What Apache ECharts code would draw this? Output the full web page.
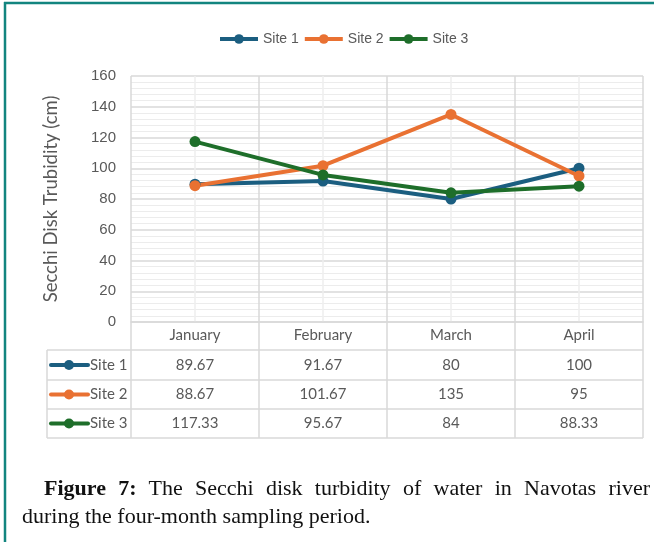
<!DOCTYPE html>
<html>
<head>
<meta charset="utf-8">
<script src="https://cdn.jsdelivr.net/npm/echarts@6/dist/echarts.min.js"></script>
<style>
  html, body { margin: 0; padding: 0; background: #fff; }
  #wrap { position: relative; width: 654px; height: 542px; }
  #chart { width: 654px; height: 542px; }
  #caption {
    position: absolute; left: 22px; top: 474px; width: 628px;
    font: 22px/28px "Liberation Serif", serif; color: #111;
  }
  #caption .l1 { padding-left: 22px; text-align: justify; text-align-last: justify; }
</style>
</head>
<body>
<div id="wrap">
  <div id="chart"></div>
  <div id="caption"><div class="l1"><b>Figure 7:</b> The Secchi disk turbidity of water in Navotas river</div><div>during the four-month sampling period.</div></div>
</div>
<script>
var months = ['January', 'February', 'March', 'April'];
var siteNames = ['Site 1', 'Site 2', 'Site 3'];
var site1 = [89.67, 91.67, 80, 100];
var site2 = [88.67, 101.67, 135, 95];
var site3 = [117.33, 95.67, 84, 88.33];
var siteColors = ['#1b5e80', '#e97132', '#1e6e2a'];
var allSites = [site1, site2, site3];

var chart = echarts.init(document.getElementById('chart'));

// plot box
var gl = 131, gr = 643, gt = 76, gb = 322;
var band = (gr - gl) / months.length;
var rowY = [365, 394.5, 423.5];
var rowEdges = [350, 380, 409, 438];
var gridColor = '#d9d9d9';
var txt = '#595959';

var graphics = [];
// table lines
for (var k = 0; k <= months.length; k++) {
    graphics.push({ type: 'line', shape: { x1: gl + band * k, y1: gb, x2: gl + band * k, y2: 438 },
        style: { stroke: gridColor, lineWidth: 1.5 } });
}
graphics.push({ type: 'line', shape: { x1: 47, y1: 350, x2: 47, y2: 438 }, style: { stroke: gridColor, lineWidth: 1.5 } });
rowEdges.forEach(function (y) {
    graphics.push({ type: 'line', shape: { x1: 47, y1: y, x2: gr, y2: y }, style: { stroke: gridColor, lineWidth: 1.5 } });
});
// table rows
allSites.forEach(function (vals, i) {
    var y = rowY[i];
    graphics.push({ type: 'line', shape: { x1: 51, y1: y, x2: 88, y2: y },
        style: { stroke: siteColors[i], lineWidth: 4, lineCap: 'round' } });
    graphics.push({ type: 'circle', shape: { cx: 69, cy: y, r: 5 }, style: { fill: siteColors[i] } });
    graphics.push({ type: 'text', x: 90, y: y, style: { text: siteNames[i], fill: txt,
        font: '15px Lato', verticalAlign: 'middle', align: 'left' } });
    vals.forEach(function (v, j) {
        graphics.push({ type: 'text', x: gl + band * (j + 0.5), y: y, style: { text: String(v), fill: txt,
            font: '15px Lato', verticalAlign: 'middle', align: 'center' } });
    });
});
// frame
graphics.push({ type: 'line', shape: { x1: 4, y1: 3, x2: 654, y2: 3 }, style: { stroke: '#12857f', lineWidth: 2.5 } });
graphics.push({ type: 'line', shape: { x1: 5, y1: 2, x2: 5, y2: 542 }, style: { stroke: '#12857f', lineWidth: 2.5 } });

var option = {
    backgroundColor: '#fff',
    animation: false,
    color: siteColors,
    legend: {
        top: 27, left: 213,
        itemWidth: 38, itemHeight: 12, itemGap: 4,
        lineStyle: { width: 4 },
        textStyle: { color: txt, fontSize: 14, fontFamily: 'Liberation Sans' },
        data: siteNames
    },
    grid: { left: gl, right: 654 - gr, top: gt, bottom: 542 - gb },
    xAxis: [
        {
            type: 'category', data: months, boundaryGap: true,
            axisLine: { lineStyle: { color: gridColor, width: 1.5 } },
            axisTick: { show: false },
            axisLabel: { color: txt, fontSize: 15, fontFamily: 'Lato', margin: 6 },
            splitLine: { show: false }
        },
        {
            type: 'value', min: 0, max: months.length * 2, interval: 2, position: 'bottom',
            axisLine: { show: false }, axisTick: { show: false }, axisLabel: { show: false },
            splitLine: { show: true, lineStyle: { color: gridColor, width: 1.5 } },
            minorTick: { show: false, splitNumber: 2 },
            minorSplitLine: { show: true, lineStyle: { color: '#eeeeee', width: 1.5 } }
        }
    ],
    yAxis: {
        type: 'value', min: 0, max: 160, interval: 20,
        name: 'Secchi Disk Trubidity (cm)', nameLocation: 'middle', nameGap: 70,
        nameTextStyle: { color: txt, fontSize: 18.5, fontFamily: 'Lato' },
        axisLine: { show: false }, axisTick: { show: false },
        axisLabel: { color: txt, fontSize: 15, fontFamily: 'Liberation Sans', margin: 15 },
        splitLine: { lineStyle: { color: gridColor, width: 1.5 } },
        minorTick: { show: false, splitNumber: 5 },
        minorSplitLine: { show: true, lineStyle: { color: '#ececec', width: 1 } }
    },
    series: allSites.map(function (vals, i) {
        return {
            name: siteNames[i], type: 'line', data: vals, xAxisIndex: 0,
            symbol: 'circle', symbolSize: 11,
            lineStyle: { width: 4, color: siteColors[i] },
            itemStyle: { color: siteColors[i] }
        };
    }),
    graphic: graphics
};
chart.setOption(option);
</script>
</body>
</html>
